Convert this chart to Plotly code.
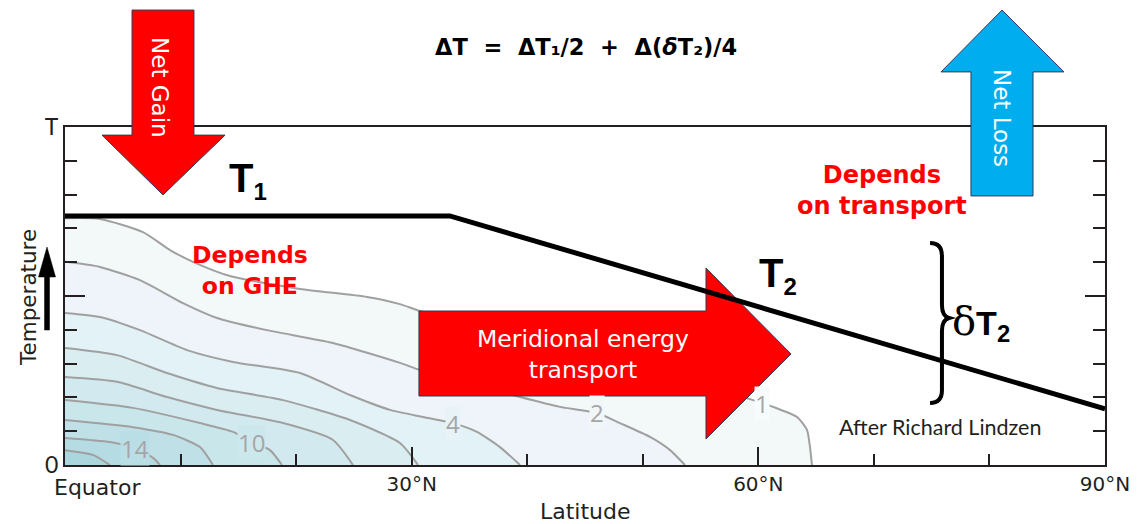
import plotly.graph_objects as go

# ---------------- data ----------------
LAT_TICKS = [30, 60, 90]
LAT_TICK_TEXT = ["30°N", "60°N", "90°N"]
T_TICKS = [0, 5, 10]
T_TICK_TEXT = ["0", "", "T"]

# idealised temperature profile (thick black line)
PROFILE_LAT = [0, 33.3, 90]
PROFILE_T = [7.37, 7.37, 1.66]

# contour levels and their lines (latitude, temperature-axis units)
LEVELS = [1, 2, 4, 6, 8, 10, 12, 14, 16]
C1_LAT = [0, 3.03, 6.75, 9.09, 11.08, 14.28, 20.34, 26.13, 28.99, 30.72, 39.38, 48.03, 54.95, 59.54, 61.27, 63.35, 64.21, 64.47, 64.64]
C1_T = [7.30, 7.28, 6.89, 6.36, 6.01, 5.59, 5.21, 4.97, 4.76, 4.56, 3.79, 2.99, 2.37, 1.92, 1.72, 1.42, 1.04, 0.53, 0]
C2_LAT = [0, 3.03, 6.49, 10.21, 13.15, 17.48, 23.19, 28.99, 30.72, 39.38, 42.84, 46.04, 48.03, 50.63, 52.36, 53.65]
C2_T = [6.01, 5.86, 5.47, 4.79, 4.35, 3.99, 3.61, 3.02, 2.81, 2.01, 1.72, 1.54, 1.24, 0.83, 0.44, 0]
C4_LAT = [0, 3.03, 6.49, 10.56, 14.54, 20.34, 24.66, 28.13, 30.98, 33.58, 35.65, 37.64, 39.38]
C4_T = [4.50, 4.38, 3.99, 3.40, 3.05, 2.72, 2.07, 1.63, 1.42, 1.24, 0.98, 0.53, 0]
C6_LAT = [0, 4.50, 8.83, 13.15, 18.87, 24.66, 28.99, 30.55]
C6_T = [3.46, 3.25, 2.72, 2.28, 1.92, 1.33, 0.65, 0]
C8_LAT = [0, 4.50, 8.83, 13.15, 18.87, 23.19, 24.92]
C8_T = [2.60, 2.46, 2.01, 1.63, 1.24, 0.74, 0]
C10_LAT = [0, 5.88, 11.68, 14.54, 16.18, 17.74, 18.78]
C10_T = [1.92, 1.69, 1.24, 0.98, 0.68, 0.44, 0]
C12_LAT = [0, 5.88, 9.35, 11.68, 12.81]
C12_T = [1.33, 1.12, 0.89, 0.53, 0]
C14_LAT = [0, 3.89, 6.06, 7.62, 8.22]
C14_T = [0.80, 0.68, 0.50, 0.21, 0]
C16_LAT = [0, 2.42, 3.89]
C16_T = [0.44, 0.30, 0]

# contour labels
LABEL_TEXT = ["14", "10", "4", "2", "1"]
LABEL_LAT = [6.06, 16.18, 33.58, 46.04, 60.3]
LABEL_T = [0.50, 0.68, 1.24, 1.54, 1.83]

# ---------------- styling ----------------
CONTOURS = [(C1_LAT, C1_T), (C2_LAT, C2_T), (C4_LAT, C4_T), (C6_LAT, C6_T), (C8_LAT, C8_T),
            (C10_LAT, C10_T), (C12_LAT, C12_T), (C14_LAT, C14_T), (C16_LAT, C16_T)]
FILLS = ["#F3F9F9", "#EFF4FA", "#E2F2F6", "#DAEEF2", "#D2EAEF", "#C9E6EB", "#BFE0E6", "#B5DCE3", "#ABD6DE"]
LABEL_BG = ["#BADEE5", "#CDE8ED", "#E8F3F8", "#F1F6F9", "#F8FBFB"]
INK = "#231F20"
SANS = "DejaVu Sans, Liberation Sans, sans-serif"
HUM = "Lato, Open Sans, sans-serif"
BOLDSANS = "Liberation Sans, sans-serif"

fig = go.Figure()

for (lx, ly), col in zip(CONTOURS, FILLS):
    fig.add_trace(go.Scatter(x=list(lx) + [0], y=list(ly) + [0], mode="lines", fill="toself",
                             fillcolor=col, line=dict(width=0), hoverinfo="skip", showlegend=False))
for (lx, ly), lev in zip(CONTOURS, LEVELS):
    fig.add_trace(go.Scatter(x=lx, y=ly, mode="lines", name=str(lev),
                             line=dict(color="#A0A0A0", width=2, shape="spline", smoothing=0.6),
                             hoverinfo="skip", showlegend=False))

# meridional energy transport arrow (drawn under the profile line)
fig.add_trace(go.Scatter(x=[30.63, 55.47, 55.47, 62.83, 55.47, 55.47, 30.63, 30.63],
                         y=[4.556, 4.556, 5.828, 3.284, 0.769, 2.041, 2.041, 4.556],
                         mode="lines", fill="toself", fillcolor="#FF0000",
                         line=dict(color="#2E3A5C", width=1), hoverinfo="skip", showlegend=False))

fig.add_trace(go.Scatter(x=PROFILE_LAT, y=PROFILE_T, mode="lines",
                         line=dict(color="black", width=5), hoverinfo="skip", showlegend=False))

shapes = [
    # Net Gain arrow
    dict(type="path", xref="x", yref="paper", layer="above",
         path="M 5.80,1.346 L 11.16,1.346 L 11.16,0.976 L 13.85,0.976 L 8.48,0.799 L 3.20,0.976 L 5.80,0.976 Z",
         fillcolor="#FF0000", line=dict(color="#2E3A5C", width=1)),
    # Net Loss arrow
    dict(type="path", xref="x", yref="paper", layer="above",
         path="M 81.09,1.346 L 86.45,1.163 L 83.77,1.163 L 83.77,0.796 L 78.40,0.796 L 78.40,1.163 L 75.81,1.163 Z",
         fillcolor="#00AEEF", line=dict(color="#2E3A5C", width=1)),
    # temperature arrow at the left
    dict(type="path", xref="paper", yref="paper", layer="above",
         path="M -0.0197,0.3994 L -0.0149,0.3994 L -0.0149,0.5562 L -0.0091,0.5562 L -0.0173,0.645 L -0.0255,0.5562 L -0.0197,0.5562 Z",
         fillcolor="black", line=dict(color="black", width=0.5)),
    # curly brace
    dict(type="path", xref="x", yref="y", layer="above",
         path="M 74.86,6.568 Q 75.89,6.568 75.89,6.183 L 75.89,4.734 Q 75.89,4.408 76.50,4.349 "
              "Q 75.89,4.290 75.89,3.964 L 75.89,2.219 Q 75.89,1.834 74.86,1.834",
         line=dict(color="black", width=4)),
]

ann = []
def A(text, x, y, size, color=INK, family=SANS, xref="paper", yref="paper", angle=0,
      xanchor="center", yanchor="middle", **kw):
    ann.append(dict(text=text, x=x, y=y, xref=xref, yref=yref, showarrow=False, textangle=angle,
                    xanchor=xanchor, yanchor=yanchor,
                    font=dict(size=size, color=color, family=family), **kw))

NB = "\u00a0"
A("<b>ΔT" + NB + " =" + NB + " ΔT₁/2" + NB + " +" + NB + " Δ(<i>δ</i>T₂)/4</b>", 0.501, 1.237, 22.5, color="black")
A("Net Gain", 0.0913, 1.1154, 23, color="white", angle=90)
A("Net Loss", 0.901, 1.0266, 23, color="white", angle=90)
A("Meridional energy<br>transport", 0.498, 0.3284, 23.5, color="white")
A("<b>Depends<br>on GHE</b>", 0.1779, 0.574, 23.5, color="#FF0000")
A("<b>Depends<br>on transport</b>", 0.7856, 0.8136, 24, color="#FF0000")
A("<b>T<sub><span style='font-size:24px'>1</span></sub></b>", 0.156, 0.842, 40, color="black",
  family=BOLDSANS, xanchor="left")
A("<b>T<sub><span style='font-size:24px'>2</span></sub></b>", 0.665, 0.562, 40, color="black",
  family=BOLDSANS, xanchor="left")
A("<span style='font-family:DejaVu Serif;font-size:40px'>δ</span><b>T<sub>2</sub></b>", 0.851, 0.423, 34,
  color="black", family=BOLDSANS, xanchor="left")
A("After Richard Lindzen", 0.841, 0.1124, 21.5, family=HUM)
A("Equator", 0.0317, -0.068, 22)
A("Latitude", 0.5, -0.139, 22)
A("Temperature", -0.0356, 0.497, 21.5, angle=-90)
for t, lx, ly, bg in zip(LABEL_TEXT, LABEL_LAT, LABEL_T, LABEL_BG):
    A(t, lx, ly, 24, color="#A6A6A6", family="Open Sans, sans-serif", xref="x", yref="y",
      bgcolor=bg, borderpad=0)

fig.update_layout(
    width=1133, height=516, margin=dict(l=57, r=36, t=119, b=59),
    paper_bgcolor="white", plot_bgcolor="white",
    shapes=shapes, annotations=ann, showlegend=False,
    xaxis=dict(range=[0, 90], tickvals=LAT_TICKS, ticktext=LAT_TICK_TEXT, ticks="inside", ticklen=18,
               tickwidth=1.5, tickcolor=INK, showgrid=False, zeroline=False, showline=True, linewidth=2,
               linecolor=INK, mirror=True, tickfont=dict(size=20, color=INK, family=SANS),
               minor=dict(dtick=10, tick0=0, ticks="inside", ticklen=11, tickwidth=1.5, tickcolor=INK,
                          showgrid=False)),
    yaxis=dict(range=[0, 10], tickvals=T_TICKS, ticktext=T_TICK_TEXT, ticks="inside", ticklen=20,
               tickwidth=1.5, tickcolor=INK, showgrid=False, zeroline=False, showline=True, linewidth=2,
               linecolor=INK, mirror="ticks", tickfont=dict(size=23, color=INK, family=HUM),
               minor=dict(dtick=1, tick0=0, ticks="inside", ticklen=12, tickwidth=1.5, tickcolor=INK,
                          showgrid=False)),
)

fig.write_html("out.html")
